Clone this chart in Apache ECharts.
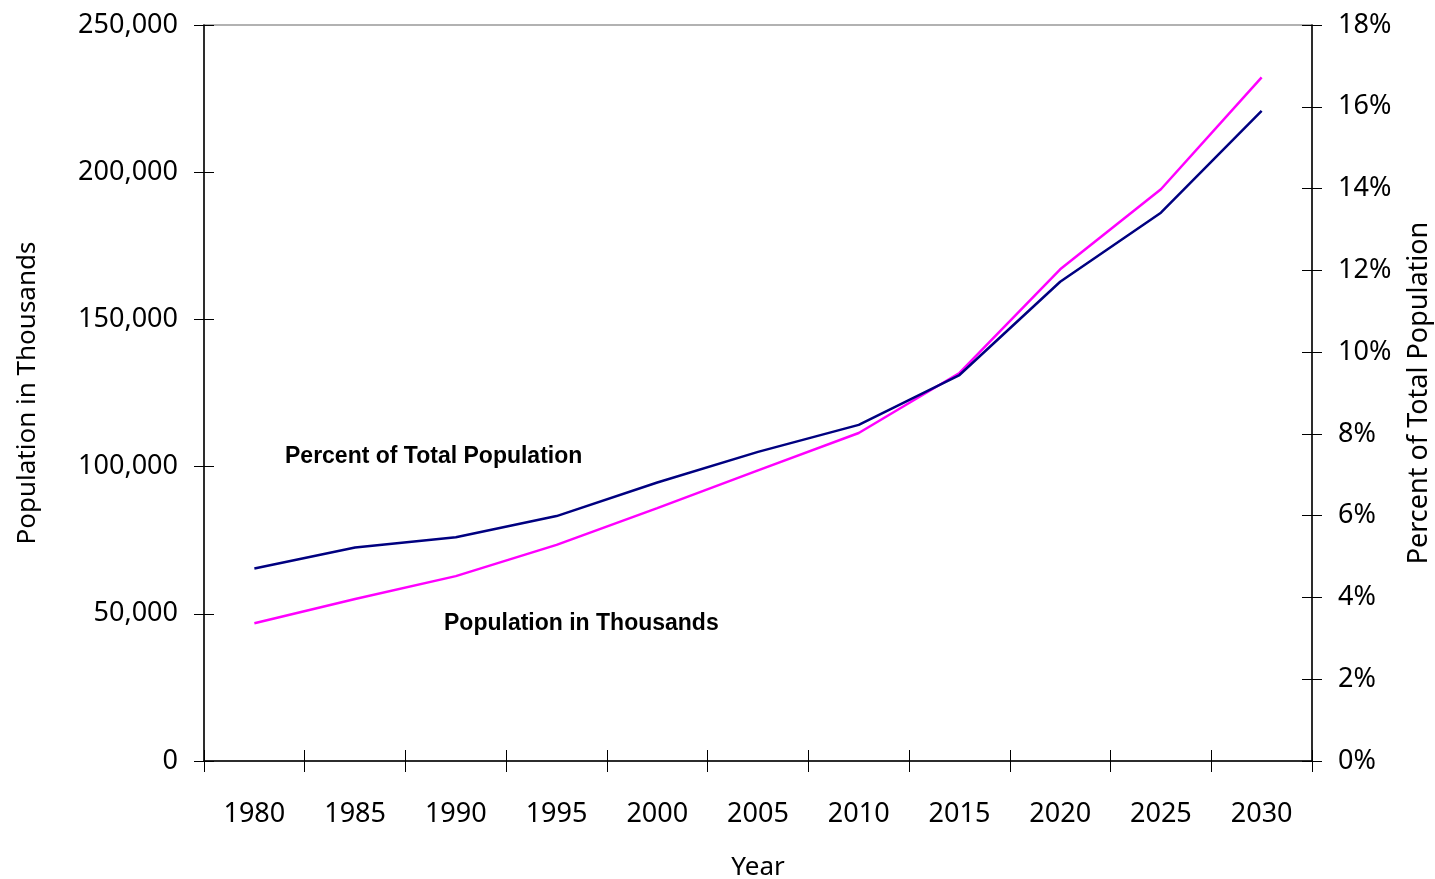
<!DOCTYPE html>
<html>
<head>
<meta charset="utf-8">
<script src="https://cdn.jsdelivr.net/npm/echarts@6/dist/echarts.min.js"></script>
<style>
html,body{margin:0;padding:0;background:#fff;}
#chart{width:1435px;height:879px;}
</style>
</head>
<body>
<div id="chart"></div>
<script>
const years = ['1980','1985','1990','1995','2000','2005','2010','2015','2020','2025','2030'];
const populationThousands = [46800, 55000, 62800, 73400, 85900, 98700, 111400, 131800, 167000, 194200, 232200];
const percentOfTotal = [4.71, 5.22, 5.47, 5.99, 6.81, 7.56, 8.22, 9.44, 11.72, 13.41, 15.90];
const leftTicks = [0, 50000, 100000, 150000, 200000, 250000];
const rightTicks = [0, 2, 4, 6, 8, 10, 12, 14, 16, 18];

const FONT = 'Noto Sans';
const chart = echarts.init(document.getElementById('chart'), null, {renderer: 'canvas'});
const lineBlack = {show: true, lineStyle: {color: '#000', width: 1.5}};
const fmtThousands = v => v === 0 ? '0' : (Math.round(v/1000) + ',000');

chart.setOption({
  animation: false,
  backgroundColor: '#fff',
  grid: {left: 204, right: 123, top: 25, bottom: 118, show: true, borderColor: '#999', borderWidth: 1.5,
         containLabel: false, outerBoundsMode: 'none'},
  xAxis: [
    {
      type: 'category', data: years, boundaryGap: true, position: 'bottom',
      axisLine: lineBlack,
      axisTick: {show: true, inside: false, length: 11, lineStyle: {color: '#000', width: 1}},
      axisLabel: {color: '#000', fontFamily: FONT, fontSize: 27, margin: 40},
      splitLine: {show: false},
      name: 'Year', nameLocation: 'middle', nameGap: 94,
      nameTextStyle: {color: '#000', fontFamily: FONT, fontSize: 26}
    },
    {
      type: 'category', data: years, boundaryGap: true, position: 'bottom',
      axisLine: {show: false},
      axisTick: {show: true, inside: true, length: 11, lineStyle: {color: '#000', width: 1}},
      axisLabel: {show: false}, splitLine: {show: false}
    }
  ],
  yAxis: [
    {
      type: 'value', min: 0, max: 250000, interval: 50000, position: 'left',
      axisLine: lineBlack,
      axisTick: {show: true, inside: false, length: 10, lineStyle: {color: '#000', width: 1}},
      axisLabel: {color: '#000', fontFamily: FONT, fontSize: 27, margin: 26, formatter: fmtThousands},
      splitLine: {show: false},
      name: 'Population in Thousands', nameLocation: 'middle', nameGap: 163, nameRotate: 90,
      nameTextStyle: {color: '#000', fontFamily: FONT, fontSize: 26}
    },
    {
      type: 'value', min: 0, max: 18, interval: 2, position: 'right',
      axisLine: lineBlack,
      axisTick: {show: true, inside: false, length: 10, lineStyle: {color: '#000', width: 1}},
      axisLabel: {color: '#000', fontFamily: FONT, fontSize: 27, margin: 26, formatter: v => v + '%'},
      splitLine: {show: false},
      name: 'Percent of Total Population', nameLocation: 'middle', nameGap: 94, nameRotate: 90,
      nameTextStyle: {color: '#000', fontFamily: FONT, fontSize: 27}
    },
    {
      type: 'value', min: 0, max: 250000, interval: 50000, position: 'left',
      axisLine: {show: false},
      axisTick: {show: true, inside: true, length: 10, lineStyle: {color: '#000', width: 1}},
      axisLabel: {show: false}, splitLine: {show: false}
    },
    {
      type: 'value', min: 0, max: 18, interval: 2, position: 'right',
      axisLine: {show: false},
      axisTick: {show: true, inside: true, length: 10, lineStyle: {color: '#000', width: 1}},
      axisLabel: {show: false}, splitLine: {show: false}
    }
  ],
  series: [
    {
      name: 'Population in Thousands', type: 'line', xAxisIndex: 0, yAxisIndex: 0,
      data: populationThousands, symbol: 'none', smooth: false,
      lineStyle: {color: '#FF00FF', width: 2.5}, itemStyle: {color: '#FF00FF'}, z: 3
    },
    {
      name: 'Percent of Total Population', type: 'line', xAxisIndex: 0, yAxisIndex: 1,
      data: percentOfTotal, symbol: 'none', smooth: false,
      lineStyle: {color: '#000080', width: 2.5}, itemStyle: {color: '#000080'}, z: 4
    }
  ],
  graphic: [
    {type: 'text', left: 285, top: 445, style: {text: 'Percent of Total Population', fill: '#000', font: 'bold 23px "Liberation Sans", Arial, sans-serif'}},
    {type: 'text', left: 444, top: 612, style: {text: 'Population in Thousands', fill: '#000', font: 'bold 23px "Liberation Sans", Arial, sans-serif'}}
  ]
});
</script>
</body>
</html>
